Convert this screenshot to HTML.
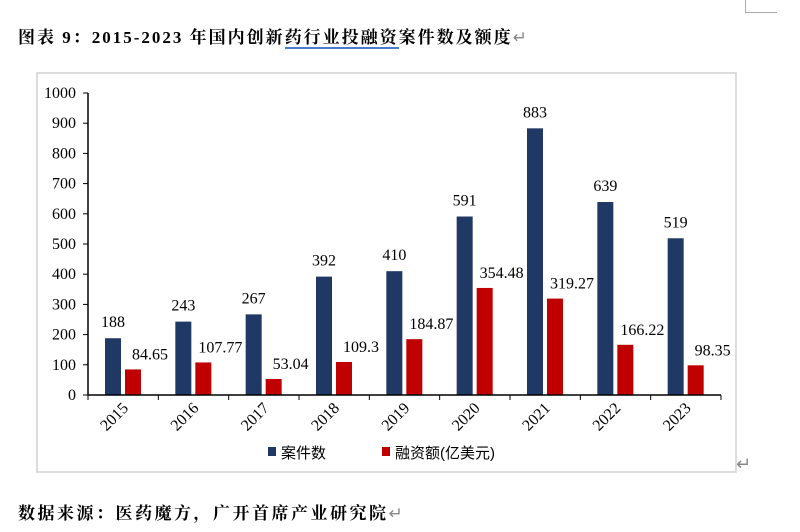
<!DOCTYPE html>
<html><head><meta charset="utf-8"><style>
body{margin:0;width:800px;height:532px;background:#fff;position:relative;overflow:hidden;font-family:"Liberation Serif","Noto Serif CJK SC",serif}
.t{position:absolute;white-space:nowrap;font-size:17px;color:#000}
</style></head><body>
<div class="t" style="left:18px;top:23px;font-weight:bold;letter-spacing:2px">图表 9：2015-2023 年国内创新<span style="border-bottom:2px double #4a7bd0">药行业投融资</span>案件数及额度<span style="color:#888;font-weight:normal">↵</span></div>
<div style="position:absolute;left:745px;top:0;width:1px;height:12px;background:#aaa"></div>
<div style="position:absolute;left:745px;top:12px;width:32px;height:1px;background:#aaa"></div>
<svg width="800" height="532" style="position:absolute;left:0;top:0" id="c"></svg>
<div class="t" style="left:18px;top:499px;font-weight:bold;letter-spacing:2.5px">数据来源：医药魔方，广开首席产业研究院<span style="color:#888;font-weight:normal">↵</span></div>
<script>
const categories=["2015","2016","2017","2018","2019","2020","2021","2022","2023"];
const casesValues=[188,243,267,392,410,591,883,639,519];
const amountValues=[84.65,107.77,53.04,109.3,184.87,354.48,319.27,166.22,98.35];
const amountLabels=["84.65","107.77","53.04","109.3","184.87","354.48","319.27","166.22","98.35"];
const yTicks=[0,100,200,300,400,500,600,700,800,900,1000];
const svg=document.getElementById('c');const NS='http://www.w3.org/2000/svg';
function mk(t,a,p){const e=document.createElementNS(NS,t);for(const k in a)e.setAttribute(k,a[k]);(p||svg).appendChild(e);return e;}
const x0=88,x1=721,y0=395,y1=93,cw=(x1-x0)/categories.length;
const y=v=>y0-(v/1000)*(y0-y1);
const xc=i=>x0+i*cw;
let b=mk('rect',{x:37,y:73,width:699,height:399,fill:'none',stroke:'#d0d0d0','stroke-width':1.5});


yTicks.forEach(v=>{
 let l=mk('line',{x1:x0-5,x2:x0,y1:y(v),y2:y(v),stroke:'#000'});
 
 
 let t=mk('text',{x:x0-12,y:y(v)+5,'text-anchor':'end','font-size':16,'font-family':'Liberation Serif'});t.textContent=v;
 
 
});
categories.forEach((c,i)=>{
 const bx=xc(i)+17;
 let r=mk('rect',{x:bx,y:y(casesValues[i]),width:16,height:y0-y(casesValues[i]),fill:'#1f3864'});
 
 
 let r2=mk('rect',{x:bx+20,y:y(amountValues[i]),width:16,height:y0-y(amountValues[i]),fill:'#c00000'});
 
 
 let t=mk('text',{x:bx+8,y:y(casesValues[i])-11,'text-anchor':'middle','font-size':16,'font-family':'Liberation Serif'});t.textContent=casesValues[i];
 
 
 let t2=mk('text',{x:bx+45,y:y(amountValues[i])-10,'text-anchor':'middle','font-size':16,'font-family':'Liberation Serif'});t2.textContent=amountLabels[i];
 
 
 let xl=mk('text',{transform:`translate(${xc(i)+cw/2+6},${y0+14}) rotate(-45)`,'text-anchor':'end','font-size':16,'font-family':'Liberation Serif'});xl.textContent=c;
 
 
});
for(let i=0;i<=categories.length;i++){let l=mk('line',{x1:xc(i),x2:xc(i),y1:y0,y2:y0+5,stroke:'#000'});
 
 }
let ax=mk('line',{x1:x0,x2:x0,y1:y1,y2:y0,stroke:'#000','stroke-width':1.5});


let ax2=mk('line',{x1:x0,x2:x1,y1:y0,y2:y0,stroke:'#000','stroke-width':1.5});


const lg=[["案件数",'#1f3864',268],["融资额(亿美元)",'#c00000',382]];
lg.forEach(([n,col,lx])=>{
 let s=mk('rect',{x:lx,y:447,width:8,height:9,fill:col});
 
 
 let t=mk('text',{x:lx+13,y:458,'font-size':15,'font-family':'Liberation Sans, Noto Sans CJK SC, sans-serif'});t.textContent=n;
 
 
});
let rt=mk('text',{x:736,y:470,'font-size':18,fill:'#888','font-family':'DejaVu Sans'});rt.textContent='↵';


</script>
</body></html>
